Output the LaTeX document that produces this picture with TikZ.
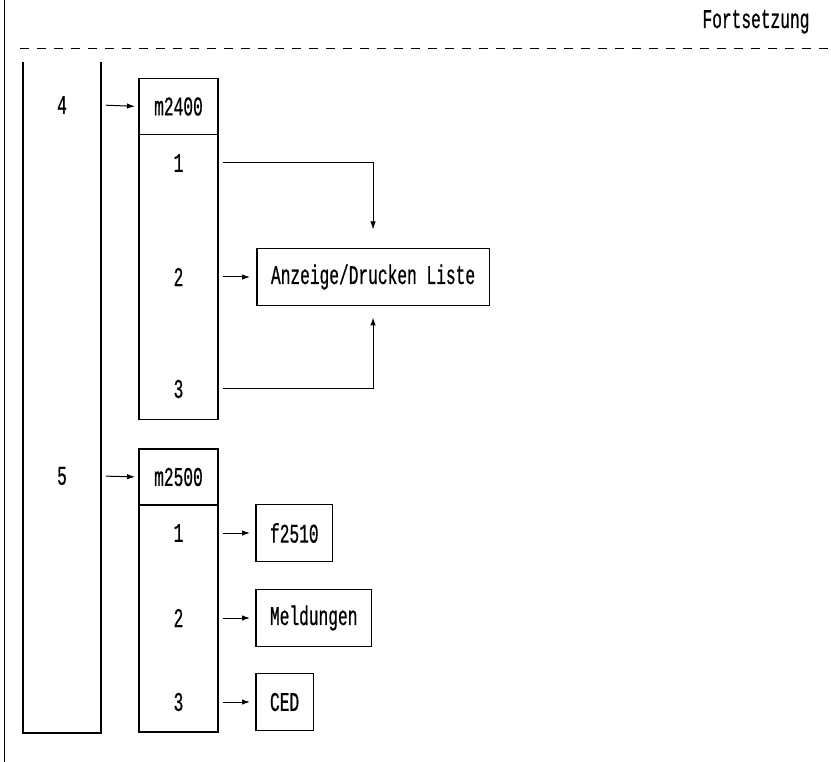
\documentclass[tikz,border=0pt]{standalone}
\usepackage{fontspec}
\newfontfamily\diafont[FakeStretch=0.6, FakeBold=0.6]{Liberation Mono}
\usetikzlibrary{arrows.meta,positioning}

\begin{document}
\begin{tikzpicture}[
    x=1pt, y=-1pt,
    every node/.style={font=\diafont\fontsize{27}{27}\selectfont},
    box/.style={draw, line width=1.1pt, outer sep=0pt, inner xsep=14pt, minimum height=57pt},
    head/.style={box, minimum width=79pt, minimum height=56pt},
    body/.style={draw, line width=1.1pt, outer sep=0pt, minimum width=79pt},
    item/.style={minimum width=79pt, inner sep=0pt, outer sep=0pt},
    num/.style={minimum width=78pt, inner sep=0pt, outer sep=0pt},
    dashline/.style={line width=1pt, dash pattern=on 9pt off 8pt},
    arrow/.style={-{Latex[length=8pt,width=5.5pt]}, line width=1pt}
  ]
    \useasboundingbox (0,0) rectangle (831,762);

    % Rahmen
    \draw[line width=0.8pt] (4,0) -- (4,762);
    \draw[dashline] (20,49) -- (831,49);
    \node[anchor=base east] (cont) at (813,28) {Fortsetzung};
    \draw[line width=1.1pt] (23,62) -- (23,733) -- (101,733) -- (101,62);
    \node[num] (n4) at (62,105) {4};
    \node[num] (n5) at (62,476) {5};

    % Menue m2400
    \node[head] (h24) at (178.5,106.5) {m2400};
    \node[body, minimum height=285pt, below=0pt of h24] (b24) {};
    \node[item] (i41) at (178.5,163) {1};
    \node[item] (i42) at (178.5,277) {2};
    \node[item] (i43) at (178.5,389) {3};
    \node[box, right=39pt of i42] (anz) {Anzeige/Drucken Liste};

    % Menue m2500
    \node[head] (h25) at (178.5,477) {m2500};
    \node[body, minimum height=227pt, below=0pt of h25] (b25) {};
    \node[item] (i51) at (178.5,533) {1};
    \node[item] (i52) at (178.5,618) {2};
    \node[item] (i53) at (178.5,702) {3};
    \node[box, right=38pt of i51] (f2510) {f2510};
    \node[box, right=38pt of i52] (meld) {Meldungen};
    \node[box, right=38pt of i53] (ced) {CED};

    \draw[arrow, shorten <=5pt, shorten >=4pt] (n4.east) -- (h24.west);
    \draw[arrow, shorten <=5pt, shorten >=4pt] (n5.east) -- (h25.west);
    \draw[arrow, shorten <=5pt, shorten >=19pt] (i41.east) -| (anz.north);
    \draw[arrow, shorten <=5pt, shorten >=7pt] (i42.east) -- (anz.west);
    \draw[arrow, shorten <=5pt, shorten >=12pt] (i43.east) -| (anz.south);
    \draw[arrow, shorten <=5pt, shorten >=6pt] (i51.east) -- (f2510.west);
    \draw[arrow, shorten <=5pt, shorten >=6pt] (i52.east) -- (meld.west);
    \draw[arrow, shorten <=5pt, shorten >=6pt] (i53.east) -- (ced.west);
  \end{tikzpicture}
\end{document}
